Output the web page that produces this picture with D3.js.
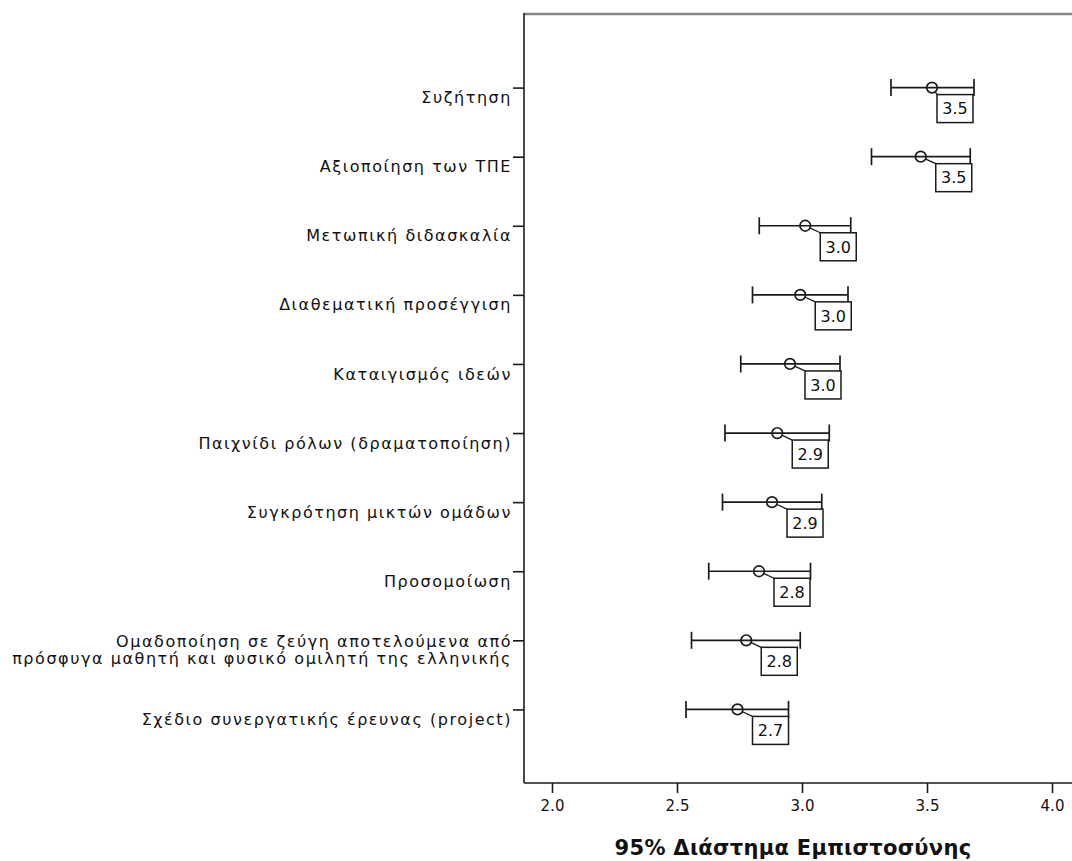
<!DOCTYPE html>
<html>
<head>
<meta charset="utf-8">
<script src="https://cdn.jsdelivr.net/npm/d3@7"></script>
<style>
  html, body { margin: 0; padding: 0; background: #fff; }
  svg { display: block; }
  text { font-family: "DejaVu Sans", "Noto Sans", sans-serif; fill: #111; }
</style>
</head>
<body>
<svg id="chart" width="1072" height="861"></svg>
<script>
// Teaching methods (each label may be split into several lines)
const categories = [
  ["Συζήτηση"],
  ["Αξιοποίηση των ΤΠΕ"],
  ["Μετωπική διδασκαλία"],
  ["Διαθεματική προσέγγιση"],
  ["Καταιγισμός ιδεών"],
  ["Παιχνίδι ρόλων (δραματοποίηση)"],
  ["Συγκρότηση μικτών ομάδων"],
  ["Προσομοίωση"],
  ["Ομαδοποίηση σε ζεύγη αποτελούμενα από", "πρόσφυγα μαθητή και φυσικό ομιλητή της ελληνικής"],
  ["Σχέδιο συνεργατικής  έρευνας (project)"]
];
// Mean and 95% confidence interval bounds
const means = [3.52, 3.475, 3.013, 2.993, 2.952, 2.901, 2.880, 2.828, 2.777, 2.742];
const lower = [3.356, 3.278, 2.829, 2.802, 2.755, 2.692, 2.682, 2.627, 2.558, 2.536];
const upper = [3.688, 3.673, 3.195, 3.184, 3.152, 3.109, 3.079, 3.034, 2.993, 2.946];
const xTicks = [2.0, 2.5, 3.0, 3.5, 4.0];
const xTitle = "95% Διάστημα Εμπιστοσύνης";

const svg = d3.select("#chart");
const plot = { left: 524, top: 14, right: 1072, bottom: 783 };

const x = d3.scaleLinear().domain([2, 4]).range([552, 1052]);
const keys = categories.map((c, i) => i);
const y = d3.scalePoint().domain(keys).range([plot.top, plot.bottom]).padding(1.065);

const fmt = d3.format(".1f");
const ink = "#1b1b1b";

// Frame: grey top border, black left and bottom axes
svg.append("line")
  .attr("x1", plot.left).attr("x2", plot.right)
  .attr("y1", plot.top).attr("y2", plot.top)
  .attr("stroke", "#858585").attr("stroke-width", 2.6);

// Bottom axis
const xAxis = svg.append("g")
  .attr("transform", `translate(0,${plot.bottom})`)
  .call(d3.axisBottom(x).tickValues(xTicks).tickFormat(fmt).tickSize(10).tickPadding(7));
xAxis.select(".domain").remove();
xAxis.selectAll(".tick line").attr("stroke", ink).attr("stroke-width", 1.6);
xAxis.selectAll(".tick text")
  .attr("font-size", 15).attr("fill", "#222")
  .style("font-family", '"DejaVu Sans", sans-serif');
svg.append("line")
  .attr("x1", plot.left).attr("x2", plot.right)
  .attr("y1", plot.bottom).attr("y2", plot.bottom)
  .attr("stroke", ink).attr("stroke-width", 1.6);

// Left axis with outward ticks
const yAxis = svg.append("g")
  .attr("transform", `translate(${plot.left},0)`)
  .call(d3.axisLeft(y).tickSize(11).tickFormat(""));
yAxis.select(".domain").remove();
yAxis.selectAll(".tick line").attr("stroke", ink).attr("stroke-width", 1.6);
svg.append("line")
  .attr("x1", plot.left).attr("x2", plot.left)
  .attr("y1", plot.top - 1).attr("y2", plot.bottom)
  .attr("stroke", ink).attr("stroke-width", 1.6);

// Category labels, right-aligned next to the ticks
const lineH = 17;
categories.forEach((lines, i) => {
  const cy = y(i) + 10 - (lines.length - 1) * lineH / 2;
  const t = svg.append("text")
    .attr("text-anchor", "end")
    .attr("font-size", 16)
    .attr("letter-spacing", 1.55)
    .attr("fill", "#1a1a1a");
  lines.forEach((s, k) => {
    t.append("tspan")
      .attr("x", 512)
      .attr("y", cy + k * lineH)
      .attr("dy", "0.35em")
      .text(s);
  });
});

// Error bars
const capH = 8.5;
const bars = svg.append("g").selectAll("g").data(keys).join("g");
bars.append("line")
  .attr("x1", i => x(lower[i])).attr("x2", i => x(upper[i]))
  .attr("y1", i => y(i)).attr("y2", i => y(i))
  .attr("stroke", ink).attr("stroke-width", 1.7);
bars.append("line")
  .attr("x1", i => x(lower[i])).attr("x2", i => x(lower[i]))
  .attr("y1", i => y(i) - capH).attr("y2", i => y(i) + capH)
  .attr("stroke", ink).attr("stroke-width", 1.7);
bars.append("line")
  .attr("x1", i => x(upper[i])).attr("x2", i => x(upper[i]))
  .attr("y1", i => y(i) - capH).attr("y2", i => y(i) + capH)
  .attr("stroke", ink).attr("stroke-width", 1.7);

// Value labels: a boxed mean, kept left of the right margin
const boxW = 36, boxH = 28, boxGap = 15, boxDrop = 7;
const boxMaxLeft = x(3.54);
bars.each(function (i) {
  const g = d3.select(this);
  const cx = x(means[i]), cy = y(i);
  const bx = Math.min(cx + boxGap, boxMaxLeft), by = cy + boxDrop;
  // connector from the marker to the label box
  const ang = Math.atan2(by - cy, bx - cx);
  g.append("line")
    .attr("x1", cx + 5 * Math.cos(ang)).attr("y1", cy + 5 * Math.sin(ang))
    .attr("x2", Math.max(bx, cx + 9 * Math.cos(ang))).attr("y2", by)
    .attr("stroke", ink).attr("stroke-width", 1.3);
  g.append("rect")
    .attr("x", bx).attr("y", by)
    .attr("width", boxW).attr("height", boxH)
    .attr("fill", "#fff").attr("stroke", ink).attr("stroke-width", 1.5);
  g.append("text")
    .attr("x", bx + boxW / 2).attr("y", by + boxH / 2)
    .attr("dy", "0.36em")
    .attr("text-anchor", "middle")
    .attr("font-size", 16)
    .text(fmt(means[i]));
});

// Mean markers (hollow circles)
bars.append("circle")
  .attr("cx", i => x(means[i])).attr("cy", i => y(i))
  .attr("r", 5.3)
  .attr("fill", "none")
  .attr("stroke", ink).attr("stroke-width", 1.7);

// Axis title
svg.append("text")
  .attr("x", 793).attr("y", 848)
  .attr("dy", "0.35em")
  .attr("text-anchor", "middle")
  .attr("font-size", 21)
  .attr("font-weight", "bold")
  .attr("letter-spacing", 0.3)
  .text(xTitle);
</script>
</body>
</html>
